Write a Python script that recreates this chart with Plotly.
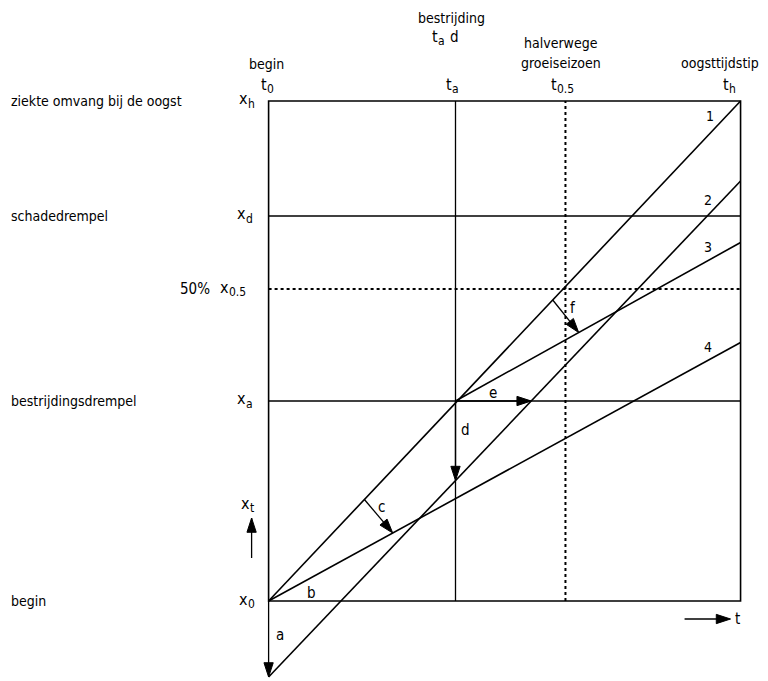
import plotly.graph_objects as go

# ---------------- data (t = time fraction, x = disease level fraction) ----------------
T0, TA, T05, TH = 0.0, 0.396, 0.629, 1.0
X0, XA, X05, XD, XH = 0.0, 0.40, 0.624, 0.77, 1.0

line1_t = [0.0, 1.0]
line1_x = [0.0, 1.0]
line2_t = [0.0, 1.0]
line2_x = [-0.152, 0.84]
line3_t = [0.396, 1.0]
line3_x = [0.40, 0.717]
line4_t = [0.0, 1.0]
line4_x = [0.0, 0.517]
line_names = ["1", "2", "3", "4"]

row_values = [XH, XD, X05, XA, X0]
row_titles = ["ziekte omvang bij de oogst", "schadedrempel", "50%", "bestrijdingsdrempel", "begin"]
row_subs = ["h", "d", "0.5", "a", "0"]

col_values = [T0, TA, T05, TH]
col_subs = ["0", "a", "0.5", "h"]

# arrow positions along lines (t values)
c_from_t, c_to_t = 0.203, 0.263
f_from_t, f_to_t = 0.602, 0.657

FONT = "DejaVu Sans Condensed, Liberation Sans Narrow, sans-serif"
FS = 14
LW = 1.6

# axis ranges and scale (pixels per unit)
TR = [-0.05, 1.02]
XR = [-0.16, 1.01]
SX, SY = 472.0, 500.0


def on_line(ts, xs, t):
    return xs[0] + (xs[1] - xs[0]) * (t - ts[0]) / (ts[1] - ts[0])


# window-pixel helpers for text placement (plot frame: t0 at px 269, th at 741; x0 at py 601, xh at 101)
def tx(px):
    return (px - 269) / SX


def xy(py):
    return (601 - py) / SY


def ptx(t):
    return t * SX + 269


def pty(x):
    return 601 - x * SY


def pt(t):
    return (t - TR[0]) / (TR[1] - TR[0])


def px_(x):
    return (x - XR[0]) / (XR[1] - XR[0])


fig = go.Figure()

for ts, xs in [(line1_t, line1_x), (line2_t, line2_x), (line3_t, line3_x), (line4_t, line4_x)]:
    fig.add_trace(go.Scatter(x=ts, y=xs, mode="lines", line=dict(color="black", width=LW),
                             hoverinfo="skip", showlegend=False))

shapes = []
shapes.append(dict(type="rect", xref="x", yref="y", x0=T0, x1=TH, y0=X0, y1=XH,
                   line=dict(color="black", width=LW)))
shapes.append(dict(type="line", xref="x", yref="y", x0=TA, x1=TA, y0=X0, y1=XH,
                   line=dict(color="black", width=1.3)))
shapes.append(dict(type="line", xref="x", yref="y", x0=T0, x1=TH, y0=XD, y1=XD,
                   line=dict(color="black", width=1.3)))
shapes.append(dict(type="line", xref="x", yref="y", x0=T0, x1=TH, y0=XA, y1=XA,
                   line=dict(color="black", width=1.3)))
shapes.append(dict(type="line", xref="x", yref="y", x0=T05, x1=T05, y0=X0, y1=XH,
                   line=dict(color="black", width=2, dash="dot")))
shapes.append(dict(type="line", xref="x", yref="y", x0=T0, x1=TH, y0=X05, y1=X05,
                   line=dict(color="black", width=2, dash="dot")))

ann = []


def label(text, t, x, xanchor="center", size=FS):
    ann.append(dict(text=text, x=pt(t), y=px_(x), xref="paper", yref="paper", showarrow=False,
                    xanchor=xanchor, yanchor="middle", borderpad=0,
                    font=dict(family=FONT, size=size, color="black")))


def symbol(main, sub, join_px, py):
    """main letter right-aligned at join_px, subscript left-aligned there and lowered"""
    label(main, tx(join_px + 1), xy(py), xanchor="right", size=16)
    label(sub, tx(join_px - 1), xy(py + 5), xanchor="left", size=12)


def arrow(t0, x0, t1, x1):
    fig.add_trace(go.Scatter(
        x=[t0, t1], y=[x0, x1], mode="lines+markers",
        line=dict(color="black", width=1.3),
        marker=dict(symbol="arrow", size=[0, 15], angleref="previous", color="black",
                    opacity=1, line=dict(width=1, color="black")),
        hoverinfo="skip", showlegend=False, cliponaxis=False))


row_join = [248, 246, 229, 246, 248]
for title, sub, v, j in zip(row_titles, row_subs, row_values, row_join):
    if title == "50%":
        label(title, tx(211), v, xanchor="right", size=15)
    else:
        label(title, tx(10), v, xanchor="left")
    symbol("x", sub, j, pty(v) - 2)

col_join = [267, 452, 557, 729]
for sub, v, j in zip(col_subs, col_values, col_join):
    symbol("t", sub, j, 84)
label("begin", tx(267), xy(64))
label("bestrijding", tx(452), xy(18))
symbol("t", "a", 438, 36)
label("d", tx(449), xy(37), xanchor="left", size=15)
label("halverwege", tx(561), xy(43))
label("groeiseizoen", tx(561), xy(63))
label("oogsttijdstip", tx(720), xy(63))

label(line_names[0], tx(710), xy(116))
label(line_names[1], tx(708), xy(200))
label(line_names[2], tx(708), xy(247))
label(line_names[3], tx(708), xy(347))

x2_ta = on_line(line2_t, line2_x, TA)
t2_xa = line2_t[0] + (XA - line2_x[0]) / (line2_x[1] - line2_x[0]) * (line2_t[1] - line2_t[0])
arrow(T0, X0, T0, line2_x[0])                       # a
arrow(TA, XA, TA, x2_ta)                            # d
arrow(TA, XA, t2_xa, XA)                            # e
arrow(c_from_t, on_line(line1_t, line1_x, c_from_t), c_to_t, on_line(line4_t, line4_x, c_to_t))  # c
arrow(f_from_t, on_line(line1_t, line1_x, f_from_t), f_to_t, on_line(line3_t, line3_x, f_to_t))  # f
arrow(tx(252), xy(558), tx(252), xy(518))           # x_t axis arrow
arrow(tx(685), xy(619), tx(731), xy(619))           # t axis arrow

label("a", tx(280), xy(635), size=15)
label("b", tx(312), xy(593), size=15)
label("c", tx(382), xy(507), size=15)
label("d", tx(466), xy(430), size=15)
label("e", tx(493), xy(393), size=15)
label("f", tx(573), xy(308), size=15)
symbol("x", "t", 250, 503)
label("t", tx(738), xy(619), size=15)

# page body has an 8px default margin: compensate so the figure sits in the 768x681 window
OFF = 8
W, H = 768 - OFF, 681 - OFF
ml = 269 - OFF - SX * (0 - TR[0])
mt = 101 - OFF - SY * (XR[1] - 1)
pw = SX * (TR[1] - TR[0])
ph = SY * (XR[1] - XR[0])
mr = W - ml - pw
mb = H - mt - ph

fig.update_layout(
    width=W, height=H,
    margin=dict(l=ml, r=mr, t=mt, b=max(mb, 0)),
    paper_bgcolor="white", plot_bgcolor="white",
    xaxis=dict(range=TR, visible=False, fixedrange=True),
    yaxis=dict(range=XR, visible=False, fixedrange=True),
    shapes=shapes, annotations=ann, showlegend=False,
)

fig.write_html("out.html")
